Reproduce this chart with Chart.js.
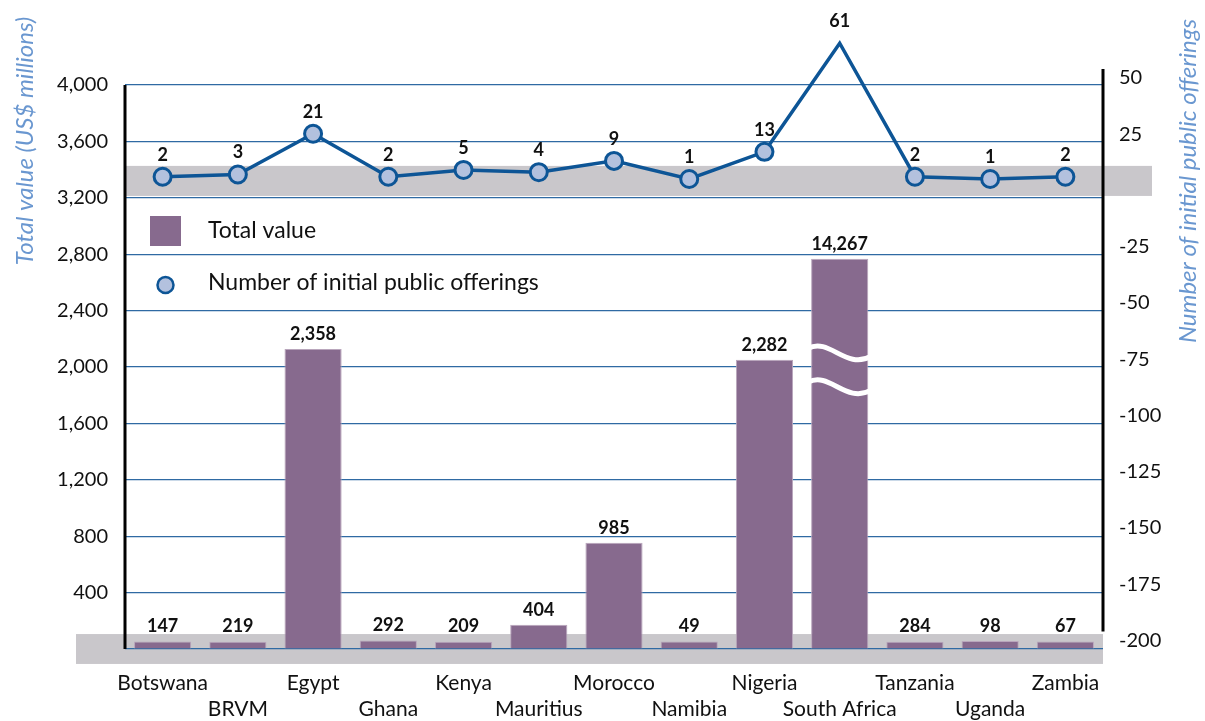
<!DOCTYPE html>
<html>
<head>
<meta charset="utf-8">
<script src="https://cdn.jsdelivr.net/npm/chart.js@4.4.1/dist/chart.umd.min.js"></script>
<style>
  html, body { margin: 0; padding: 0; background: #fff; }
  #wrap { width: 1205px; height: 721px; }
</style>
</head>
<body>
<div id="wrap"><canvas id="ipoChart"></canvas></div>
<script>
// markets, every second one pushed down a line so the names don't collide
const markets = [['Botswana'], ['', 'BRVM'], ['Egypt'], ['', 'Ghana'], ['Kenya'], ['', 'Mauritius'],
                 ['Morocco'], ['', 'Namibia'], ['Nigeria'], ['', 'South Africa'], ['Tanzania'], ['', 'Uganda'], ['Zambia']]
// value printed above each bar (US$ millions)
const totalValue = [147, 219, 2358, 292, 209, 404, 985, 49, 2282, 14267, 284, 98, 67]
// bar height as drawn against the left axis
const barHeight = [54, 52, 2128, 61, 52, 172, 753, 54, 2051, 2767, 52, 57, 54]
// number of IPOs
const ipoCount = [2, 3, 21, 2, 5, 4, 9, 1, 13, 61, 2, 1, 2]
const leftTicks = [0, 400, 800, 1200, 1600, 2000, 2400, 2800, 3200, 3600, 4000]
const rightTicks = [-200, -175, -150, -125, -100, -75, -50, -25, 25, 50]
const brokenBars = ['South Africa']

const FONT = "Lato, 'Open Sans', 'Noto Sans', sans-serif"
const barColor = '#876a8e'
const lineColor = '#0d5596'
const pointFill = '#b3c1de'
const titleColor = '#6a97d0'
const bandColor = '#c9c7cb'

const marketName = m => m[m.length - 1]

// grey bands behind the plot
const bandsPlugin = {
    id: 'bands',
    beforeDraw(chart) {
        const {ctx, chartArea} = chart
        const y = chart.scales.y
        ctx.save()
        ctx.fillStyle = bandColor
        let t = y.getPixelForValue(3426), b = y.getPixelForValue(3213)
        ctx.fillRect(chartArea.left, t, chartArea.right + 49 - chartArea.left, b - t)
        t = y.getPixelForValue(106); b = y.getPixelForValue(-106)
        ctx.fillRect(chartArea.left - 49, t, chartArea.right - chartArea.left + 49, b - t)
        ctx.restore()
    }
}

// value labels, the axis break, axis lines, legend and titles
const decorPlugin = {
    id: 'decor',
    afterDatasetsDraw(chart) {
        const {ctx, chartArea} = chart
        const y = chart.scales.y
        const yR = chart.scales.yRight
        ctx.save()

        // break marks on the oversized bar
        const barMeta = chart.getDatasetMeta(0)
        brokenBars.forEach(name => {
            const i = markets.findIndex(m => marketName(m) == name)
            const bar = barMeta.data[i]
            const l = bar.x - bar.width / 2, r = bar.x + bar.width / 2, w = bar.width
            ctx.strokeStyle = '#fff'
            ctx.lineWidth = 5
            ;[2090, 1850].forEach(v => {
                const y0 = y.getPixelForValue(v) - 6
                ctx.beginPath()
                ctx.moveTo(l - 3, y0)
                ctx.bezierCurveTo(l + 0.33 * w, y0 - 11, l + 0.6 * w, y0 + 22, r + 3, y0 + 8)
                ctx.stroke()
            })
        })

        ctx.fillStyle = '#111'
        ctx.textAlign = 'center'
        ctx.textBaseline = 'middle'
        ctx.font = 'bold 18px ' + FONT
        barMeta.data.forEach((bar, i) => {
            ctx.fillText(totalValue[i].toLocaleString('en-US'), bar.x, bar.y - 15)
        })
        chart.getDatasetMeta(1).data.forEach((pt, i) => {
            ctx.fillText(ipoCount[i], pt.x, pt.y - 22)
        })

        // axis lines
        ctx.strokeStyle = '#000'
        ctx.lineWidth = 3
        ctx.beginPath()
        ctx.moveTo(chartArea.left, y.getPixelForValue(4000))
        ctx.lineTo(chartArea.left, y.getPixelForValue(0))
        ctx.moveTo(chartArea.right, yR.getPixelForValue(54))
        ctx.lineTo(chartArea.right, yR.getPixelForValue(-196))
        ctx.stroke()

        // legend
        const lx = chartArea.left
        ctx.fillStyle = barColor
        ctx.fillRect(lx + 25, 216, 31, 30)
        ctx.beginPath()
        ctx.arc(lx + 40.5, 285, 8, 0, Math.PI * 2)
        ctx.fillStyle = pointFill
        ctx.fill()
        ctx.strokeStyle = lineColor
        ctx.lineWidth = 2.5
        ctx.stroke()
        ctx.fillStyle = '#111'
        ctx.textAlign = 'left'
        ctx.font = '23px ' + FONT
        ctx.fillText(chart.data.datasets[0].label, lx + 83, 231)
        ctx.fillText(chart.data.datasets[1].label, lx + 83, 283)

        // axis titles
        ctx.fillStyle = titleColor
        ctx.font = 'italic 24px ' + FONT
        ctx.textAlign = 'center'
        ctx.save()
        ctx.translate(25, 141)
        ctx.rotate(-Math.PI / 2)
        ctx.fillText('Total value (US$ millions)', 0, 0)
        ctx.restore()
        ctx.save()
        ctx.translate(1188, 181)
        ctx.rotate(-Math.PI / 2)
        ctx.fillText('Number of initial public offerings', 0, 0)
        ctx.restore()

        ctx.restore()
    }
}

const ctx = document.getElementById('ipoChart')
const chart = new Chart(ctx, {
    data: {
        labels: markets,
        datasets: [
            {
                type: 'bar',
                label: 'Total value',
                data: barHeight,
                yAxisID: 'y',
                backgroundColor: barColor,
                borderColor: '#b9a6bc',
                borderWidth: 1,
                borderSkipped: 'bottom',
                barPercentage: 0.76,
                categoryPercentage: 1,
                order: 1
            },
            {
                type: 'line',
                label: 'Number of initial public offerings',
                data: ipoCount,
                yAxisID: 'yIpo',
                borderColor: lineColor,
                borderWidth: 3.5,
                pointRadius: 8.5,
                pointBorderWidth: 3,
                pointBackgroundColor: pointFill,
                pointBorderColor: lineColor,
                tension: 0,
                clip: false,
                order: 0
            }
        ]
    },
    options: {
        responsive: true,
        maintainAspectRatio: false,
        animation: false,
        events: [],
        layout: { padding: { top: 60, left: 0, right: 0, bottom: 0 } },
        plugins: {
            legend: { display: false },
            tooltip: { enabled: false }
        },
        scales: {
            x: {
                offset: true,
                grid: { display: false, drawTicks: false },
                border: { display: false },
                ticks: {
                    autoSkip: false,
                    maxRotation: 0,
                    padding: 21,
                    color: '#111',
                    font: { family: FONT, size: 21, lineHeight: 1.25 }
                },
                afterFit(scale) { scale.height = 72 }
            },
            y: {
                position: 'left',
                min: 0,
                max: 4177,
                grid: { color: '#2f6aa3', lineWidth: 1.2, drawTicks: false },
                border: { display: false },
                afterBuildTicks(scale) { scale.ticks = leftTicks.map(v => ({value: v})) },
                ticks: {
                    padding: 17,
                    color: '#111',
                    font: { family: FONT, size: 20 },
                    callback: v => v == 0 ? '' : v.toLocaleString('en-US')
                },
                afterFit(scale) { scale.width = 125 }
            },
            yRight: {
                position: 'right',
                min: -203.8,
                max: 58,
                grid: { display: false, drawTicks: false },
                border: { display: false },
                afterBuildTicks(scale) { scale.ticks = rightTicks.map(v => ({value: v})) },
                ticks: {
                    padding: 16,
                    color: '#111',
                    font: { family: FONT, size: 20 }
                },
                afterFit(scale) { scale.width = 102 }
            },
            yIpo: {
                display: false,
                min: -206.8,
                max: 53.6
            }
        }
    },
    plugins: [bandsPlugin, decorPlugin]
})
</script>
</body>
</html>
